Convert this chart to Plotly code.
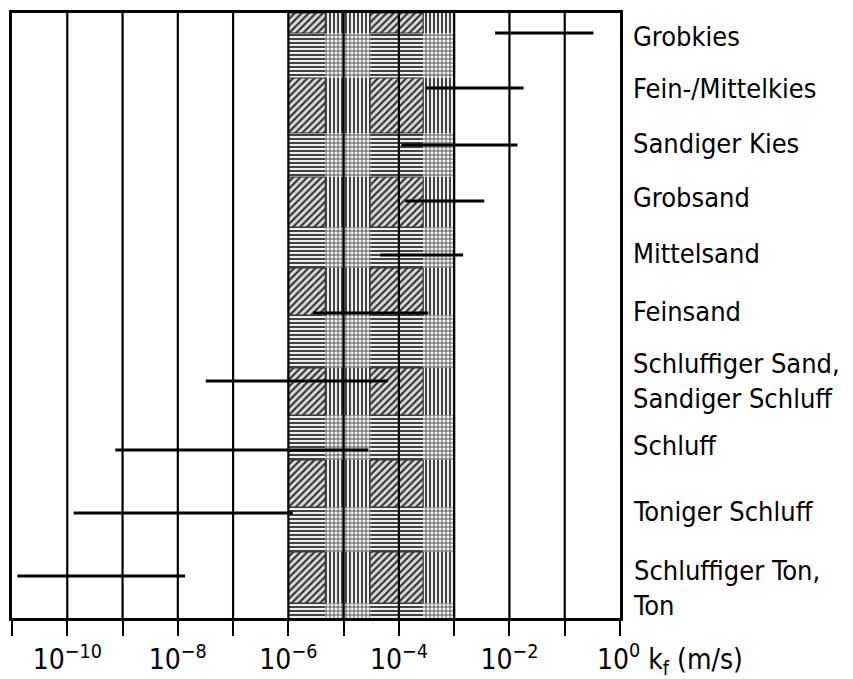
import math
import plotly.graph_objects as go

# ---------------- data ----------------
soil_types = [
    "Grobkies", "Fein-/Mittelkies", "Sandiger Kies", "Grobsand", "Mittelsand",
    "Feinsand", "Schluffiger Sand,<br>Sandiger Schluff", "Schluff",
    "Toniger Schluff", "Schluffiger Ton,<br>Ton",
]
kf_min = [5.5e-3, 3.0e-4, 1.1e-4, 1.3e-4, 4.6e-5, 2.8e-6, 3.2e-8, 7.4e-10, 1.3e-10, 1.25e-11]
kf_max = [3.3e-1, 1.8e-2, 1.4e-2, 3.5e-3, 1.45e-3, 3.4e-4, 6.3e-5, 2.8e-5, 1.2e-6, 1.35e-8]

band_lo, band_hi = 1e-6, 1e-3          # shaded range
decades = list(range(-11, 1))           # 10^-11 ... 10^0
tick_text = ["" if (d % 2 or d == 0) else "10<sup>\u2212" + str(-d) + "</sup>" for d in decades]
axis_title = "10<sup>0</sup> k<sub>f</sub> (m/s)"

# ---------------- layout constants (pixel-like y units, 0 = top) ----------------
row_y = [20, 75, 132, 188, 242, 300, 368, 437, 500, 563]
label_y = [23, 75, 130, 184, 240, 298, 368, 432, 498, 575]
Y_MAX = 605

FONT = "DejaVu Sans Condensed, Roboto, sans-serif"

fig = go.Figure()

# ---------- plaid texture of the shaded band ----------
llo, lhi = math.log10(band_lo), math.log10(band_hi)
col_frac = [0.0, 0.223, 0.493, 0.813, 1.0]
cols = [llo + f * (lhi - llo) for f in col_frac]
sq_rows = [(0, 20), (65, 120), (164, 214), (255, 302), (355, 402), (447, 494), (539, 590)]
gap_rows = []
prev = 0
for a, b in sq_rows:
    if a > prev:
        gap_rows.append((prev, a))
    prev = b
gap_rows.append((prev, Y_MAX))


def rects(col_idx, rows):
    xs, ys = [], []
    for ci in col_idx:
        x0, x1 = 10 ** cols[ci], 10 ** cols[ci + 1]
        for (a, b) in rows:
            xs += [x0, x1, x1, x0, x0, None]
            ys += [a, a, b, b, a, None]
    return xs, ys


def add_patch(col_idx, rows, shape, size, solidity, fg, bg, edge=0):
    xs, ys = rects(col_idx, rows)
    fig.add_trace(go.Scatter(
        x=xs, y=ys, mode="lines", fill="toself",
        line=dict(width=edge, color="#333333" if edge else bg),
        fillcolor=bg,
        fillpattern=dict(shape=shape, size=size, solidity=solidity, fgcolor=fg,
                         bgcolor=bg, fillmode="replace"),
        hoverinfo="skip", showlegend=False))


add_patch([1, 3], sq_rows, "|", 4, 0.45, "#303030", "#eeeeee")
add_patch([0, 2], gap_rows, "-", 4, 0.45, "#303030", "#eeeeee")
add_patch([1, 3], gap_rows, "+", 4, 0.35, "#333333", "#f2f2f2")
add_patch([0, 2], sq_rows, "/", 5, 0.42, "#333333", "#dcdcdc", edge=1.2)

# ---------- vertical decade lines ----------
gx, gy = [], []
for d in decades[1:-1]:
    gx += [10 ** d, 10 ** d, None]
    gy += [0, Y_MAX, None]
fig.add_trace(go.Scatter(x=gx, y=gy, mode="lines", line=dict(color="black", width=2.2),
                         hoverinfo="skip", showlegend=False))

# ---------- kf ranges ----------
lx, ly = [], []
for lo, hi, y in zip(kf_min, kf_max, row_y):
    lx += [lo, hi, None]
    ly += [y, y, None]
fig.add_trace(go.Scatter(x=lx, y=ly, mode="lines", line=dict(color="black", width=3),
                         hoverinfo="skip", showlegend=False))

# ---------- labels ----------
for name, y in zip(soil_types, label_y):
    fig.add_annotation(x=1, xref="paper", y=y, yref="y", text=name, showarrow=False,
                       xanchor="left", yanchor="middle", xshift=11, align="left",
                       font=dict(family=FONT, size=27, color="black"))

fig.add_annotation(x=1, xref="paper", y=0, yref="paper", text=axis_title,
                   showarrow=False, xanchor="left", yanchor="middle", xshift=-25, yshift=-41,
                   font=dict(family=FONT, size=28, color="black"))

# page has an 8px body margin, so the figure is a bit smaller than the window
fig.update_layout(
    width=845, height=671,
    margin=dict(l=4, r=233, t=5, b=61, autoexpand=False),
    plot_bgcolor="white", paper_bgcolor="white",
    showlegend=False,
    xaxis=dict(type="log", range=[-11, 0], tickvals=[10 ** d for d in decades],
               ticktext=tick_text, ticks="outside", ticklen=15, tickwidth=2,
               tickcolor="black", showgrid=False, zeroline=False, automargin=False,
               showline=True, linecolor="black", linewidth=2.5, mirror=True,
               tickfont=dict(family=FONT, size=28, color="black"), fixedrange=True),
    yaxis=dict(range=[Y_MAX, 0], showticklabels=False, ticks="", showgrid=False,
               zeroline=False, showline=True, linecolor="black", linewidth=2.5,
               mirror=True, fixedrange=True, automargin=False),
)

fig.write_html("out.html")
